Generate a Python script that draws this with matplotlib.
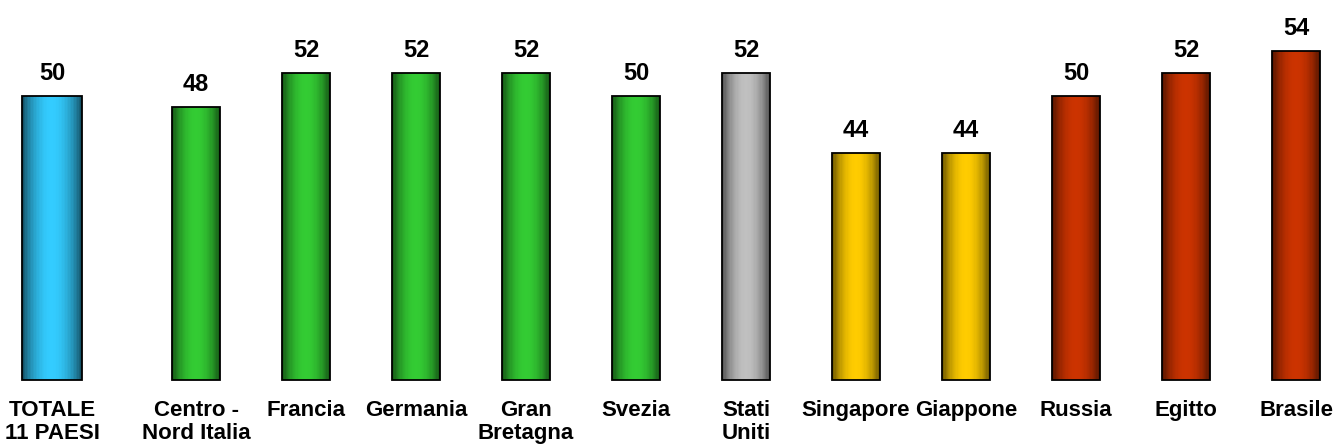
import numpy as np
import matplotlib.pyplot as plt
from matplotlib.colors import to_rgb

# data
categories = ["TOTALE\n11 PAESI", "Centro -\nNord Italia", "Francia", "Germania", "Gran\nBretagna",
              "Svezia", "Stati\nUniti", "Singapore", "Giappone", "Russia", "Egitto", "Brasile"]
values = [49.6, 48.4, 52.0, 52.0, 52.0, 49.6, 52.0, 43.6, 43.6, 49.6, 52.0, 54.3]
labels = ["50", "48", "52", "52", "52", "50", "52", "44", "44", "50", "52", "54"]
colors = ["#33CCFF", "#33CC33", "#33CC33", "#33CC33", "#33CC33", "#33CC33",
          "#C0C0C0", "#FFCC00", "#FFCC00", "#CC3300", "#CC3300", "#CC3300"]

base = 20
xpos = [-1.309] + list(range(11))
widths = [0.545] + [0.436] * 11

plt.rcParams['font.family'] = ['Liberation Sans', 'DejaVu Sans']

fig = plt.figure(figsize=(13.33, 4.46), dpi=100)
ax = fig.add_axes([0, 0, 1, 1])
ax.axis('off')

# cylinder shading: thin vertical strips, dark at edges, light in the middle
n = 40
t = (np.arange(n) + 0.5) / n
shade = 0.33 + 0.67 * np.sin(np.pi * t) ** 0.7

for x, v, w, c, lab, cat in zip(xpos, values, widths, colors, labels, categories):
    rgb = np.array(to_rgb(c))
    sx = x - w / 2 + t * w
    ax.bar(sx, v - base, width=w / n * 1.05, bottom=base,
           color=[tuple(s * rgb) for s in shade], linewidth=0, zorder=2)
    ax.bar(x, v - base, width=w, bottom=base, facecolor='none',
           edgecolor='black', linewidth=1.3, zorder=3)
    ax.annotate(lab, (x, v), xytext=(0, 11.5), textcoords='offset points',
                ha='center', va='baseline', fontsize=17, fontweight='bold')
    ax.annotate(cat, (x, base), xytext=(0, -14.5), textcoords='offset points',
                ha='center', va='top', fontsize=16, fontweight='bold', linespacing=1.1)

ax.set_xlim(-1.782, 10.336)
ax.set_ylim(13.125, 59.58)

fig.savefig("out.png", dpi=100)
